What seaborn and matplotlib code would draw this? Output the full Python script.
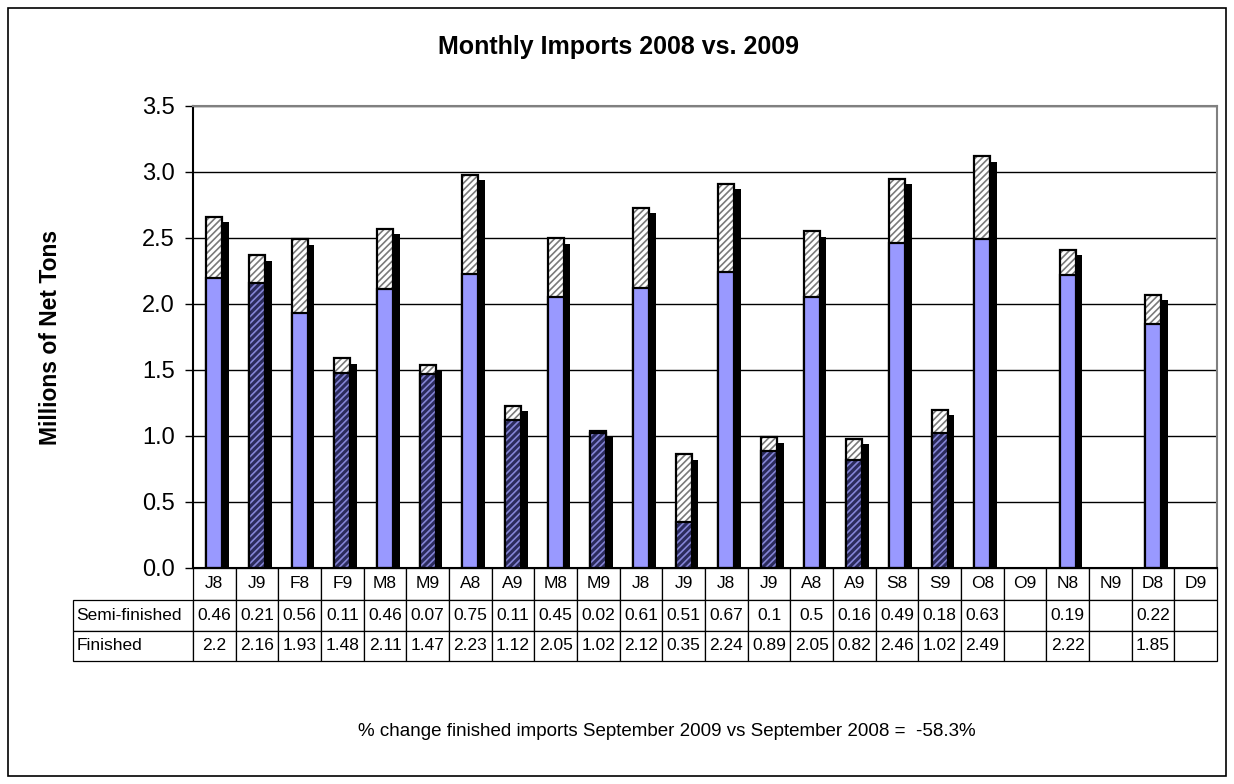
import numpy as np
import matplotlib
matplotlib.use("Agg")
import matplotlib.pyplot as plt
import matplotlib.colors as mcolors
import matplotlib.transforms as mtransforms
from matplotlib.table import Table
import seaborn as sns

months = ["J8", "J9", "F8", "F9", "M8", "M9", "A8", "A9", "M8", "M9", "J8", "J9",
          "J8", "J9", "A8", "A9", "S8", "S9", "O8", "O9", "N8", "N9", "D8", "D9"]
semi = [0.46, 0.21, 0.56, 0.11, 0.46, 0.07, 0.75, 0.11, 0.45, 0.02, 0.61, 0.51,
        0.67, 0.1, 0.5, 0.16, 0.49, 0.18, 0.63, None, 0.19, None, 0.22, None]
finished = [2.2, 2.16, 1.93, 1.48, 2.11, 1.47, 2.23, 1.12, 2.05, 1.02, 2.12, 0.35,
            2.24, 0.89, 2.05, 0.82, 2.46, 1.02, 2.49, None, 2.22, None, 1.85, None]
row_names = ["Semi-finished", "Finished"]

sns.set_theme(style="white")
plt.rcParams['font.family'] = ['Liberation Sans', 'DejaVu Sans']
plt.rcParams['hatch.linewidth'] = 1.2
for k in ['text.color', 'axes.labelcolor', 'xtick.color', 'ytick.color']:
    plt.rcParams[k] = 'black'

fig = plt.figure(figsize=(12.34, 7.84), dpi=100)
ax = fig.add_axes([193 / 1234, 1 - 568 / 784, 1024 / 1234, 462 / 784])

idx = list(range(len(months)))
semi_v = np.array([np.nan if v is None else v for v in semi])
fin_v = np.array([np.nan if v is None else v for v in finished])
total_v = semi_v + fin_v
bw = 0.38

# drop shadow: black bars shifted a few pixels right/down
sns.barplot(x=idx, y=total_v, order=idx, ax=ax, width=bw, color="black",
            linewidth=0, saturation=1)
shift = mtransforms.ScaledTranslation(0.066, -0.055, fig.dpi_scale_trans)
for p in ax.patches:
    p.set_transform(ax.transData + shift)
n0 = len(ax.patches)

# total bar -> semi-finished part visible on top
sns.barplot(x=idx, y=total_v, order=idx, ax=ax, width=bw, color="white",
            edgecolor="black", linewidth=1.6, saturation=1)
for p in ax.patches[n0:]:
    p.set_hatch("/////")
    p._hatch_color = mcolors.to_rgba("#7a7a7a")
n1 = len(ax.patches)

# finished part
cols = ["#9999ff" if m.endswith("8") else "#2b2b5c" for m in months]
sns.barplot(x=idx, y=fin_v, order=idx, ax=ax, width=bw, palette=cols, hue=idx,
            legend=False, edgecolor="black", linewidth=1.6, saturation=1)
for p in ax.patches[n1:]:
    if mcolors.to_hex(p.get_facecolor()) == "#2b2b5c":
        p.set_hatch("/////")
        p._hatch_color = mcolors.to_rgba("#8585d6")

ax.set_xlim(-0.5, len(months) - 0.5)
ax.set_ylim(0, 3.5)
yt = np.arange(0, 3.51, 0.5)
ax.set_yticks(yt)
ax.set_yticklabels([f"{v:.1f}" for v in yt], fontsize=17)
ax.tick_params(axis="y", length=6, width=1, color="black", left=True, pad=7)
ax.set_xticks([])
ax.set_xlabel("")
ax.yaxis.grid(True, color="black", linewidth=1)
ax.set_axisbelow(True)
for s in ax.spines.values():
    s.set_color("#808080")
    s.set_linewidth(1.5)
ax.spines["left"].set_color("black")
ax.spines["bottom"].set_color("black")
ax.set_ylabel("Millions of Net Tons", fontsize=16.5, fontweight="bold")
ax.yaxis.set_label_coords(-0.128, 0.5)

# data table under the plot
first_w, col_w = 120, 1024 / 24
heights = [32, 30.5, 30.5]
rows = [[""] + months,
        [row_names[0]] + ["" if v is None else f"{v:g}" for v in semi],
        [row_names[1]] + ["" if v is None else f"{v:g}" for v in finished]]
tab = Table(ax, bbox=[-first_w / 1024, -sum(heights) / 462,
                      (1024 + first_w) / 1024, sum(heights) / 462])
for r, row in enumerate(rows):
    for c, txt in enumerate(row):
        w = first_w if c == 0 else col_w
        cell = tab.add_cell(r, c, width=w, height=heights[r], text=txt,
                            loc="left" if c == 0 else "center",
                            edgecolor="black", facecolor="white")
        cell.set_linewidth(0.9)
        cell.get_text().set_color("black")
        if c == 0:
            cell.PAD = 0.03
        if r == 0 and c == 0:
            cell.visible_edges = ""
tab.auto_set_font_size(False)
tab.set_fontsize(12.5)
ax.add_table(tab)

fig.text(618 / 1234, 1 - 47 / 784, "Monthly Imports 2008 vs. 2009", ha="center", va="center",
         fontsize=18, fontweight="bold")
fig.text(667 / 1234, 1 - 731 / 784,
         "% change finished imports September 2009 vs September 2008 =  -58.3%",
         ha="center", va="center", fontsize=13.5)

fig.patches.append(plt.Rectangle((8 / 1234, 8 / 784), 1218 / 1234, 768 / 784,
                                 transform=fig.transFigure, fill=False,
                                 edgecolor="black", linewidth=1.2))

fig.savefig("out.png", dpi=100)
